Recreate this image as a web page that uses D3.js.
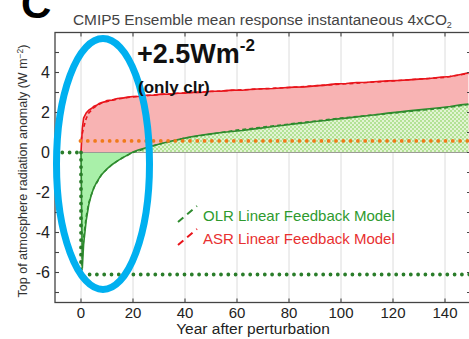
<!DOCTYPE html>
<html><head><meta charset="utf-8">
<script src="https://cdn.jsdelivr.net/npm/d3@7"></script>
<style>html,body{margin:0;padding:0;background:#fff;overflow:hidden}svg{display:block}</style>
</head><body>
<svg id="c" width="469" height="339"></svg>
<script>
// ---- data ----
const years = [0,0.5,1,2,3,4,5,6,7,8,9,10,12,14,16,18,20,22,25,28,31,34,37,40,43,46,50,54,58,62,66,70,74,78,82,86,90,94,98,102,106,110,114,118,122,126,130,134,138,142,146,149];
const asr = [0,1.2,1.72,1.98,2.12,2.2,2.32,2.36,2.45,2.5,2.53,2.6,2.62,2.7,2.72,2.77,2.8,2.8,2.86,2.87,2.92,2.91,2.96,2.97,3.01,3.0,3.06,3.07,3.12,3.11,3.16,3.19,3.2,3.24,3.27,3.28,3.33,3.37,3.43,3.45,3.5,3.51,3.55,3.58,3.6,3.63,3.67,3.7,3.76,3.8,3.9,3.98];
const olr = [0,-5.8,-4.6,-3.4,-2.6,-2.1,-1.75,-1.5,-1.28,-1.1,-0.95,-0.82,-0.6,-0.42,-0.27,-0.12,0.02,0.12,0.24,0.35,0.45,0.55,0.63,0.72,0.8,0.86,0.93,1.0,1.05,1.1,1.17,1.23,1.3,1.36,1.43,1.48,1.55,1.6,1.67,1.72,1.78,1.84,1.9,1.97,2.02,2.08,2.13,2.19,2.24,2.3,2.38,2.42];
const modelYears = [0,0.5,1,2,3,5,8,12,16,20,30,40,60,80,100,120,140,149];
const asrModel = [0.6,0.95,1.25,1.7,1.98,2.25,2.48,2.62,2.72,2.78,2.9,2.98,3.12,3.25,3.42,3.58,3.76,3.95];
const olrModel = [-6.0,-5.2,-4.3,-3.2,-2.5,-1.75,-1.08,-0.6,-0.26,0.0,0.42,0.72,1.12,1.42,1.72,1.97,2.23,2.4];
const forcingLevel = -6.1;     // green dotted
const asrStart = 0.58;         // orange dotted
const xTicks = [0,20,40,60,80,100,120,140];
const yTicks = [-6,-4,-2,0,2,4];
const yMinor = [-7,-5,-3,-1,1,3,5];
const legendLabels = ["OLR Linear Feedback Model","ASR Linear Feedback Model"];
const title = "CMIP5 Ensemble mean response instantaneous 4xCO";

// ---- layout ----
const svg = d3.select("#c");
const L = 55, R = 471, T = 32.5, B = 302.5;
const x = d3.scaleLinear().domain([-10,150]).range([L,R]);
const y = d3.scaleLinear().domain([-7.5,6]).range([B,T]);
const GREEN = "#2e8b2e", RED = "#e8141b";

const defs = svg.append("defs");
const pat = defs.append("pattern").attr("id","chk").attr("width",4).attr("height",4).attr("patternUnits","userSpaceOnUse");
pat.append("rect").attr("width",4).attr("height",4).attr("fill","#e2f4d4");
pat.append("rect").attr("width",2).attr("height",2).attr("fill","#b3e296");
pat.append("rect").attr("x",2).attr("y",2).attr("width",2).attr("height",2).attr("fill","#b3e296");
defs.append("clipPath").attr("id","clip").append("rect").attr("x",L).attr("y",T).attr("width",R-L).attr("height",B-T);

// grid
svg.append("g").selectAll("line").data(xTicks).join("line")
  .attr("x1",d=>x(d)).attr("x2",d=>x(d)).attr("y1",T).attr("y2",B)
  .attr("stroke","#dcdcdc").attr("stroke-width",1);

const obs = years.map((t,i)=>({t, a:asr[i], o:olr[i]}));
const mod = modelYears.map((t,i)=>({t, a:asrModel[i], o:olrModel[i]}));
const g = svg.append("g").attr("clip-path","url(#clip)");

g.append("path").datum(obs).attr("fill","#f8b3b3")
  .attr("d", d3.area().x(d=>x(d.t)).y0(y(0)).y1(d=>y(d.a)));
g.append("path").datum(obs).attr("fill","#a9f0a9")
  .attr("d", d3.area().x(d=>x(d.t)).y0(y(0)).y1(d=>y(Math.min(d.o,0))));
g.append("path").datum(obs).attr("fill","url(#chk)")
  .attr("d", d3.area().x(d=>x(d.t)).y0(y(0)).y1(d=>y(Math.max(d.o,0))));
g.append("line").attr("x1",x(0)).attr("x2",x(150)).attr("y1",y(0)).attr("y2",y(0))
  .attr("stroke","#8a8a8a").attr("stroke-width",0.8);

// model dashed
g.append("path").datum(mod).attr("fill","none").attr("stroke",RED).attr("stroke-width",1.6).attr("stroke-dasharray","4,3")
  .attr("d", d3.line().x(d=>x(d.t)).y(d=>y(d.a)));
g.append("path").datum(mod).attr("fill","none").attr("stroke",GREEN).attr("stroke-width",1.6).attr("stroke-dasharray","4,3")
  .attr("d", d3.line().x(d=>x(d.t)).y(d=>y(d.o)));
// observed
g.append("path").datum(obs).attr("fill","none").attr("stroke",RED).attr("stroke-width",1.6)
  .attr("d", d3.line().x(d=>x(d.t)).y(d=>y(d.a)));
g.append("path").datum(obs).attr("fill","none").attr("stroke",GREEN).attr("stroke-width",1.6)
  .attr("d", d3.line().x(d=>x(d.t)).y(d=>y(d.o)));

// dotted lines
function dotted(pts,color){
  g.append("path").datum(pts).attr("fill","none").attr("stroke",color).attr("stroke-width",3.8)
   .attr("stroke-linecap","round").attr("stroke-dasharray","0,7.3")
   .attr("d", d3.line().x(d=>x(d[0])).y(d=>y(d[1])));
}
dotted([[-10,0],[0,0]],"#2a7d2a");
dotted([[0,0],[0,-5.9]],"#2a7d2a");
dotted([[0.5,forcingLevel],[150,forcingLevel]],"#2a7d2a");
dotted([[-0.2,asrStart],[150,asrStart]],"#f07a1a");

// frame
svg.append("rect").attr("x",L).attr("y",T).attr("width",R-L).attr("height",B-T)
  .attr("fill","none").attr("stroke","#444").attr("stroke-width",1.3);
// ticks
const tk = svg.append("g").attr("stroke","#444").attr("stroke-width",1.1);
xTicks.forEach(v=>{
  tk.append("line").attr("x1",x(v)).attr("x2",x(v)).attr("y1",B).attr("y2",B-4);
  tk.append("line").attr("x1",x(v)).attr("x2",x(v)).attr("y1",T).attr("y2",T+4);
});
yTicks.concat(yMinor).forEach(v=>{
  tk.append("line").attr("x1",L).attr("x2",L+4).attr("y1",y(v)).attr("y2",y(v));
  tk.append("line").attr("x1",R).attr("x2",R-4).attr("y1",y(v)).attr("y2",y(v));
});
const font = "Liberation Sans, Arial, sans-serif";
svg.append("g").selectAll("text").data(xTicks).join("text")
  .attr("x",d=>x(d)).attr("y",B+15.5).attr("text-anchor","middle")
  .attr("font-family",font).attr("font-size",15).attr("fill","#222").text(d=>d);
svg.append("g").selectAll("text").data(yTicks).join("text")
  .attr("x",L-5).attr("y",d=>y(d)+5.5).attr("text-anchor","end")
  .attr("font-family",font).attr("font-size",16).attr("fill","#222").text(d=>d);

svg.append("text").attr("x",253).attr("y",334).attr("text-anchor","middle")
  .attr("font-family",font).attr("font-size",15.5).attr("fill","#222").text("Year after perturbation");
const yl = svg.append("text").attr("transform","translate(27,171) rotate(-90)").attr("text-anchor","middle")
  .attr("font-family",font).attr("font-size",12.5).attr("fill","#333");
yl.append("tspan").text("Top of atmosphere radiation anomaly (W m");
yl.append("tspan").attr("dy",-4).attr("font-size",8.5).text("−2");
yl.append("tspan").attr("dy",4).text(")");

// title
const tt = svg.append("text").attr("x",73).attr("y",25).attr("font-family",font).attr("font-size",15.4).attr("fill","#444");
tt.append("tspan").text(title);
tt.append("tspan").attr("dy",3).attr("font-size",9).text("2");
// panel letter (cropped at top edge, as in the reference)
svg.append("text").attr("x",21).attr("y",18).attr("font-family",font).attr("font-weight","bold").attr("font-size",42).attr("fill","#000").text("C");

// legend
const leg = [[legendLabels[0],GREEN,"#2e9a2e",221],[legendLabels[1],RED,"#e83030",244]];
leg.forEach(([lab,c,tc,yy])=>{
  svg.append("line").attr("x1",178).attr("y1",yy+1).attr("x2",197).attr("y2",yy-15)
    .attr("stroke",c).attr("stroke-width",2).attr("stroke-dasharray","7,5");
  svg.append("text").attr("x",203).attr("y",yy).attr("font-family",font).attr("font-size",15).attr("fill",tc).text(lab);
});

// blue ellipse
svg.append("ellipse").attr("cx",103).attr("cy",164).attr("rx",46.5).attr("ry",125.5)
  .attr("fill","none").attr("stroke","#00b0f0").attr("stroke-width",7);

// annotations (drawn over the ellipse)
const an = svg.append("text").attr("x",137).attr("y",63).attr("font-family",font).attr("font-weight","bold").attr("font-size",27).attr("fill","#111");
an.append("tspan").text("+2.5Wm");
an.append("tspan").attr("dy",-12).attr("font-size",17).text("-2");
svg.append("text").attr("x",138).attr("y",93).attr("font-family",font).attr("font-weight","bold").attr("font-size",17).attr("fill","#111").text("(only clr)");
</script>
</body></html>
